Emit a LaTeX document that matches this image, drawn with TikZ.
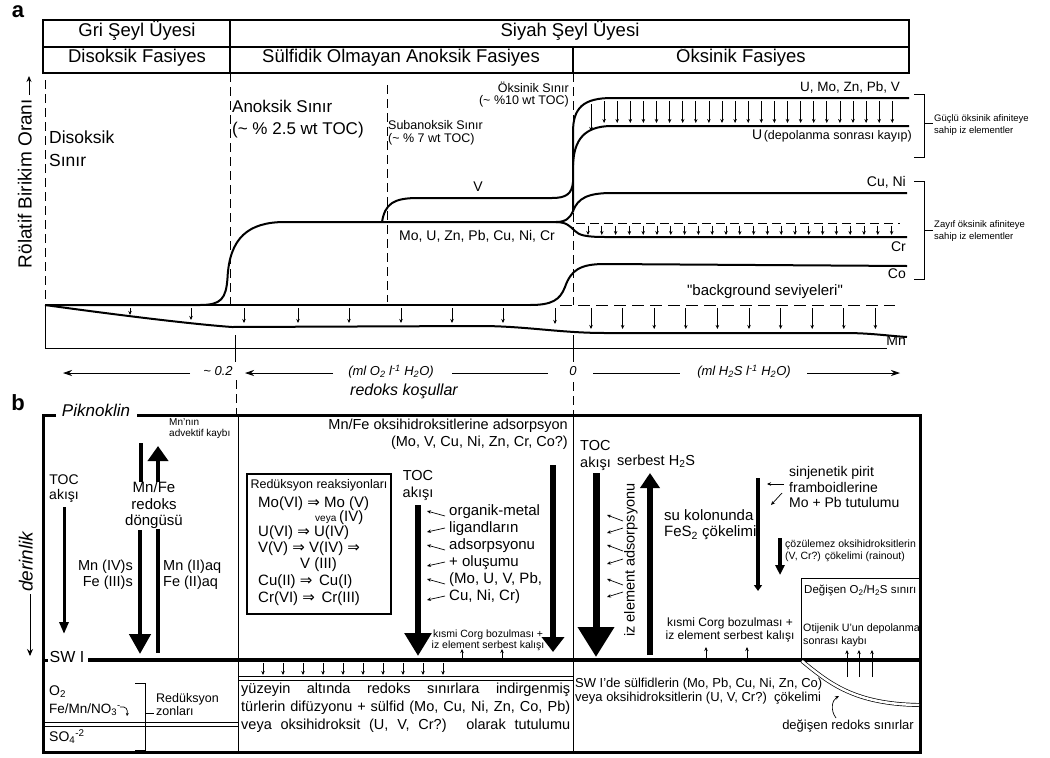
\documentclass[tikz,border=0pt]{standalone}
\usepackage{fontspec}
\setmainfont{Liberation Sans}
\newfontfamily\dvf{DejaVu Sans}
\usetikzlibrary{arrows.meta}
\newcommand\fs[1]{\fontsize{#1}{#1}\selectfont}
\newcommand\dra{{\dvf ⇒}}
\begin{document}
\begin{tikzpicture}[x=1pt,y=-1pt,
  every node/.style={inner sep=0pt},
  hd/.style={font=\fs{18.5}},
  dsh/.style={line width=0.9pt,dash pattern=on 9pt off 5pt},
  crv/.style={line width=2pt},
  sar/.style={line width=0.7pt,-{Stealth[length=4pt,width=3.5pt]}},
  bord/.style={line width=3pt},
  thn/.style={line width=1pt},
  lar/.style={line width=0.8pt,-{Stealth[length=9pt,width=6pt]}},
]
\useasboundingbox (0,0) rectangle (1050,758);
% ---------------- panel a -----------------
\node[font=\fs{22}\bfseries,anchor=mid] (la) at (18,15) {a};
\draw[line width=1.6pt] (43,20) rectangle (909,73);
\draw[line width=1.2pt] (43,47) -- (909,47);
\draw[line width=1.2pt] (230,20) -- (230,73);
\draw[line width=1.2pt] (573,47) -- (573,73);
\node[hd,anchor=mid] (gri) at (137,34) {Gri Şeyl Üyesi};
\node[hd,anchor=mid] (siyah) at (570,34) {Siyah Şeyl Üyesi};
\node[hd,anchor=mid] (diso) at (137,60) {Disoksik Fasiyes};
\node[hd,anchor=mid] (sulf) at (401,60) {Sülfidik Olmayan Anoksik Fasiyes};
\node[hd,anchor=mid] (oksf) at (741,60) {Öksinik Fasiyes};
% y axis label
\node[font=\fs{19},rotate=90,anchor=mid east] (yl) at (29,99) {Rölatif Birikim Oranı};
\draw[line width=0.9pt,-{Stealth[length=6pt,width=5pt]}] (29,95) -- (29,76);
% dashed verticals
\draw[dsh] (45,80) -- (45,305);
\draw[dsh] (230,73) -- (230,305);
\draw[dsh] (387,85) -- (387,302);
\draw[dsh] (573,73) -- (573,305);
% boundary labels
\node[font=\fs{17.5},anchor=mid west] (ds1) at (49,141) {Disoksik};
\node[font=\fs{17.5},anchor=mid west] (ds2) at (49,164) {Sınır};
\node[font=\fs{17},anchor=mid west] (an1) at (232,110) {Anoksik Sınır};
\node[font=\fs{17},anchor=mid west] (an2) at (232,132) {(\textasciitilde{} \% 2.5 wt TOC)};
\node[font=\fs{12.5},anchor=mid west] (sb1) at (388,127) {Subanoksik Sınır};
\node[font=\fs{12.5},anchor=mid west] (sb2) at (388,140) {(\textasciitilde{} \% 7 wt TOC)};
\node[font=\fs{12.5},anchor=mid east] (ok1) at (569,90) {Öksinik Sınır};
\node[font=\fs{12.5},anchor=mid east] (ok2) at (569,102) {(\textasciitilde{} \%10 wt TOC)};
% curves
\draw[crv] (45,305) -- (200,305) .. controls (221,305) and (226,299) .. (227.5,278) .. controls (229.5,238) and (248,222) .. (285,222) -- (562,222);
\draw[crv] (200,305) -- (532,305);
\draw[crv] (382,222) .. controls (385,204) and (393,198) .. (418,198) -- (552,198) .. controls (566,198) and (572,194) .. (573,182);
\draw[crv] (573,212) -- (573,132) .. controls (573,108) and (583,98) .. (612,98) -- (909,98);
\draw[crv] (573,165) .. controls (574,140) and (584,126) .. (612,126) -- (909,126);
\draw[crv] (556,222) .. controls (566,222) and (570,218) .. (573,211) .. controls (578,198) and (588,193) .. (612,193) -- (907,193);
\draw[crv] (556,222) .. controls (566,222) and (570,226) .. (575,231) .. controls (579,235) and (585,237) .. (605,237) -- (907,237);
\draw[crv] (530,305) .. controls (552,305) and (560,300) .. (565,287) .. controls (571,270) and (580,264) .. (605,264) -- (907,266);
\draw[crv] (45,305) .. controls (110,314) and (190,324) .. (232,327) -- (480,326) .. controls (525,326) and (560,333) .. (605,333) -- (845,333) .. controls (870,333) and (890,336) .. (907,337);
% arrows in U zone
\draw[sar] (591,104) -- (591,131);
\foreach \i in {1,...,23} {\draw[sar] ({591+13.1*\i},101) -- ({591+13.1*\i},123);}
% Cr zone
\draw[dsh] (576,223) -- (900,223);
\foreach \i in {0,...,22} {\draw[sar] ({588+13.8*\i},225.5) -- ({588+13.8*\i},235);}
% background
\draw[line width=0.9pt,dash pattern=on 12pt off 6pt] (560,305) -- (895,305);
\foreach \x/\y in {130/315,191/320,244/323,298/323,349/323,401/323,452/323,503/323,555/324} {\draw[sar] (\x,308) -- (\x,\y);}
\foreach \i in {0,...,9} {\draw[sar] ({591+31.6*\i},308) -- ({591+31.6*\i},329);}
% axis
\draw[thn] (45,305) -- (45,348) -- (887,348);
\draw[thn] (235,335) -- (235,362);
\draw[thn] (573,335) -- (573,362);
% curve labels
\node[font=\fs{14},anchor=mid] (vl) at (478,189) {V};
\node[font=\fs{14},anchor=mid] (mol) at (477,238) {Mo, U, Zn, Pb, Cu, Ni, Cr};
\node[font=\fs{13.5},anchor=mid east] (uml) at (900,89) {U, Mo, Zn, Pb, V};
\node[anchor=mid east] (ul) at (912,137) {{\fs{14}U}\,{\fs{12.5}(depolanma sonrası kayıp)}};
\node[font=\fs{14},anchor=mid east] (cul) at (906,184) {Cu, Ni};
\node[font=\fs{14},anchor=mid east] (crl) at (906,249) {Cr};
\node[font=\fs{14},anchor=mid east] (col) at (906,276) {Co};
\node[font=\fs{14},anchor=mid east] (mnl) at (906,343) {Mn};
\node[font=\fs{15},anchor=mid] (bgl) at (765,293) {\textquotedbl background seviyeleri\textquotedbl};
% brackets
\draw[thn] (914,94) -- (924,94) -- (924,157) -- (914,157);
\draw[thn] (924,123) -- (933,123);
\node[font=\fs{9.5},anchor=mid west] (g1) at (934,119) {Güçlü öksinik afiniteye};
\node[font=\fs{9.5},anchor=mid west] (g2) at (934,131) {sahip iz elementler};
\draw[thn] (914,181) -- (924,181) -- (924,279) -- (914,279);
\draw[thn] (924,230) -- (933,230);
\node[font=\fs{9.5},anchor=mid west] (z1) at (934,225) {Zayıf öksinik afiniteye};
\node[font=\fs{9.5},anchor=mid west] (z2) at (934,237) {sahip iz elementler};
% redox axis
\draw[lar] (190,373) -- (63,373);
\node[font=\fs{13}\itshape,anchor=mid] (r02) at (218,373) {\textasciitilde{} 0.2};
\draw[lar] (333,373) -- (245,373);
\node[font=\fs{13}\itshape,anchor=mid] (ro2) at (391,373) {(ml O\textsubscript{2} l\textsuperscript{-1} H\textsubscript{2}O)};
\draw[line width=0.8pt] (452,373) -- (548,373);
\node[font=\fs{13}\itshape,anchor=mid] (r0) at (573,373) {0};
\draw[line width=0.8pt] (593,373) -- (680,373);
\node[font=\fs{13}\itshape,anchor=mid] (rh2s) at (744,373) {(ml H\textsubscript{2}S l\textsuperscript{-1} H\textsubscript{2}O)};
\draw[lar] (807,373) -- (900,373);
\node[font=\fs{16}\itshape,anchor=mid] (redk) at (404,393) {redoks koşullar};
\draw[dsh] (236,380) -- (236,414);
\draw[dsh] (573,382) -- (573,414);
% ---------------- panel b -----------------
\node[font=\fs{22}\bfseries,anchor=mid] (lb) at (18,408) {b};
\draw[bord] (56,415) -- (43,415) -- (43,752) -- (920,752) -- (920,415) -- (137,415);
\node[font=\fs{17}\itshape,anchor=mid] (pik) at (96,414) {Piknoklin};
\draw[thn] (238,415) -- (238,752);
\draw[thn] (573,415) -- (573,752);
\draw[bord] (43,660) -- (48,660);
\node[font=\fs{16},anchor=mid] (swi) at (67,660) {SW I};
\draw[line width=3.5pt] (88,660) -- (920,660);
% left column
\node[font=\fs{10},anchor=mid west] (mn1) at (169,423) {Mn'nın};
\node[font=\fs{10},anchor=mid west] (mn2) at (169,434) {advektif kaybı};
\draw[line width=4pt] (141,443) -- (141,482);
\draw[line width=4pt,-{Triangle[length=15pt,width=20pt]}] (158,482) -- (158,446);
\node[font=\fs{14},anchor=mid] (toc1) at (64,482) {TOC};
\node[font=\fs{14},anchor=mid] (ak1) at (64,497) {akışı};
\draw[line width=3pt,-{Triangle[length=12pt,width=9pt]}] (64,507) -- (64,634);
\node[font=\fs{15},anchor=mid] (mf1) at (154,490) {Mn/Fe};
\node[font=\fs{15},anchor=mid] (mf2) at (154,507) {redoks};
\node[font=\fs{15},anchor=mid] (mf3) at (154,523) {döngüsü};
\draw[line width=4.5pt,-{Triangle[length=20pt,width=21pt]}] (140,530) -- (140,654);
\draw[line width=4.5pt] (158,529) -- (158,653);
\node[font=\fs{14.5},anchor=mid east] (mniv) at (133,568) {Mn (IV)s};
\node[font=\fs{14.5},anchor=mid east] (feiii) at (133,584) {Fe (III)s};
\node[font=\fs{14.5},anchor=mid west] (mnii) at (163,568) {Mn (II)aq};
\node[font=\fs{14.5},anchor=mid west] (feii) at (163,584) {Fe (II)aq};
\node[font=\fs{19}\itshape,rotate=90,anchor=mid west] (der) at (30,592) {derinlik};
\draw[line width=0.9pt,-{Stealth[length=7pt,width=6pt]}] (30,594) -- (30,656);
% left below SWI
\node[font=\fs{14},anchor=mid west] (o2) at (49,693) {O\textsubscript{2}};
\node[font=\fs{13.5},anchor=mid west] (femn) at (49,711) {Fe/Mn/NO\textsubscript{3}\textsuperscript{-}};
\draw[line width=0.7pt,-{Stealth[length=3pt,width=3pt]}] (120,707) .. controls (126,706) and (128,709) .. (127,716);
\draw[line width=0.7pt] (43,722.5) -- (238,722.5);
\draw[line width=0.7pt] (43,726) -- (238,726);
\node[font=\fs{14},anchor=mid west] (so4) at (49,739) {SO\textsubscript{4}\textsuperscript{-2}};
\draw[thn] (135,683) -- (145,683) -- (145,750) -- (135,750);
\draw[thn] (145,713) -- (154,713);
\node[font=\fs{12.5},anchor=mid west] (rz1) at (156,700) {Redüksyon};
\node[font=\fs{12.5},anchor=mid west] (rz2) at (156,713) {zonları};
% middle column
\node[font=\fs{14.5},anchor=mid east] (mfo1) at (568,427) {Mn/Fe oksihidroksitlerine adsorpsyon};
\node[font=\fs{14.5},anchor=mid east] (mfo2) at (568,444) {(Mo, V, Cu, Ni, Zn, Cr, Co?)};
\draw[line width=1.3pt] (247,474) rectangle (391,614);
\node[font=\fs{12.5},anchor=mid] (rr) at (319,486) {Redüksyon reaksiyonları};
\node[font=\fs{15},anchor=mid west] (re1) at (258,505) {Mo(VI) \dra{} Mo (V)};
\node[anchor=mid west] (re1b) at (315,519) {{\fs{10}veya} {\fs{15}(IV)}};
\node[font=\fs{15},anchor=mid west] (re2) at (258,534) {U(VI) \dra{} U(IV)};
\node[font=\fs{15},anchor=mid west] (re3) at (258,550) {V(V) \dra{} V(IV) \dra};
\node[font=\fs{15},anchor=mid west] (re3b) at (300,566) {V (III)};
\node[font=\fs{15},anchor=mid west] (re4) at (258,583) {Cu(II) \dra{}\, Cu(I)};
\node[font=\fs{15},anchor=mid west] (re5) at (258,600) {Cr(VI) \dra{}\, Cr(III)};
\node[font=\fs{14.5},anchor=mid] (toc2) at (418,478) {TOC};
\node[font=\fs{14.5},anchor=mid] (ak2) at (418,495) {akışı};
\draw[line width=5.7pt,-{Triangle[length=23pt,width=26pt]}] (418,505) -- (418,656);
\draw[line width=6pt,-{Triangle[length=15pt,width=22pt]}] (553,465) -- (553,652);
\foreach \t/\y/\k in {organik-metal/513/0,ligandların/530/1,adsorpsyonu/547/0,+ oluşumu/564/1,{(Mo, U, V, Pb,}/581/0,{Cu, Ni, Cr)}/598/1} {
  \node[font=\fs{15},anchor=mid west] at (449,\y) {\t};
  \ifnum\k=0 \draw[sar] (445,\y+3) -- (427,\y-2); \else \draw[sar] (445,\y-2) -- (427,\y+2); \fi
}
\node[font=\fs{10.5},anchor=mid] (kc1) at (488,635) {kısmi Corg bozulması +};
\node[font=\fs{10.5},anchor=mid] (kc2) at (488,646) {iz element serbest kalışı};
\draw[sar] (462,659) -- (462,649);
\draw[sar] (502,659) -- (502,649);
\foreach \i in {0,...,9} {\draw[sar] ({263+20*\i},663) -- ({263+20*\i},675);}
\draw[line width=0.7pt] (238,676.5) -- (573,676.5);
\draw[line width=0.7pt] (238,680) -- (573,680);
\node[font=\fs{14.5},anchor=mid west] (yz1) at (241,691) {\makebox[329pt][s]{yüzeyin altında redoks sınırlara indirgenmiş}};
\node[font=\fs{14.5},anchor=mid west] (yz2) at (241,709) {\makebox[329pt][s]{türlerin difüzyonu + sülfid (Mo, Cu, Ni, Zn, Co, Pb)}};
\node[font=\fs{14.5},anchor=mid west] (yz3) at (241,727) {\makebox[329pt][s]{veya oksihidroksit (U, V, Cr?) olarak tutulumu}};
% right column
\node[font=\fs{14.5},anchor=mid west] (toc3) at (580,448) {TOC};
\node[font=\fs{14.5},anchor=mid west] (ak3) at (580,465) {akışı};
\node[font=\fs{14.5},anchor=mid west] (h2s) at (617,463) {serbest H\textsubscript{2}S};
\draw[line width=7pt,-{Triangle[length=30pt,width=35pt]}] (596,473) -- (596,657);
\draw[line width=6.5pt,-{Triangle[length=15pt,width=19pt]}] (650,655) -- (650,473);
\node[font=\fs{14.5},rotate=90,anchor=mid] (iza) at (632,560) {iz element adsorpsyonu};
\foreach \y/\k in {518/0,531/1,548/0,562/1,582/0,595/1} {
  \ifnum\k=0 \draw[sar] (623,\y+3) -- (607,\y-3); \else \draw[sar] (623,\y-3) -- (607,\y+2); \fi
}
\draw[line width=3.2pt,-{Triangle[length=6pt,width=8pt]}] (758,478) -- (758,591);
\node[font=\fs{14},anchor=mid west] (sj1) at (789,474) {sinjenetik pirit};
\node[font=\fs{14},anchor=mid west] (sj2) at (789,490) {framboidlerine};
\node[font=\fs{14},anchor=mid west] (sj3) at (789,505) {Mo + Pb tutulumu};
\draw[sar] (784,484) -- (767,484);
\draw[sar] (782,493) -- (771,505);
\node[font=\fs{15},anchor=mid west] (su1) at (664,518) {su kolonunda};
\node[font=\fs{15},anchor=mid west] (su2) at (664,534) {FeS\textsubscript{2} çökelimi};
\draw[line width=3.5pt,-{Triangle[length=10pt,width=9pt]}] (780,538) -- (780,575);
\node[font=\fs{10.5},anchor=mid west] (cz1) at (785,545) {çözülemez oksihidroksitlerin};
\node[font=\fs{10.5},anchor=mid west] (cz2) at (785,557) {(V, Cr?) çökelimi (rainout)};
\draw[thn] (801,660) -- (801,578) -- (920,578);
\node[font=\fs{11.5},anchor=mid west] (dg) at (804,591) {Değişen O\textsubscript{2}/H\textsubscript{2}S sınırı};
\node[font=\fs{10.7},anchor=mid west] (ot1) at (803,629) {Otijenik U'un depolanma};
\node[font=\fs{10.7},anchor=mid west] (ot2) at (803,642) {sonrası kaybı};
\foreach \x in {847,859,872} {\draw[sar] (\x,677) -- (\x,650);}
\node[font=\fs{12},anchor=mid] (kc3) at (730,624) {kısmi Corg bozulması +};
\node[font=\fs{12},anchor=mid] (kc4) at (730,637) {iz element serbest kalışı};
\draw[sar] (706,659) -- (706,647);
\draw[sar] (747,659) -- (747,647);
\node[font=\fs{13},anchor=mid west] (sw1) at (575,685) {SW I'de sülfidlerin (Mo, Pb, Cu, Ni, Zn, Co)};
\node[font=\fs{13},anchor=mid west] (sw2) at (575,699) {veya oksihidroksitlerin (U, V, Cr?)\ \ çökelimi};
\draw[line width=0.7pt,double,double distance=2.5pt] (802,661) .. controls (830,684) and (855,704) .. (919,705);
\draw[sar] (836,718) .. controls (830,710) and (832,700) .. (839,696);
\node[font=\fs{13},anchor=mid] (dr) at (848,727) {değişen redoks sınırlar};
\end{tikzpicture}
\end{document}
